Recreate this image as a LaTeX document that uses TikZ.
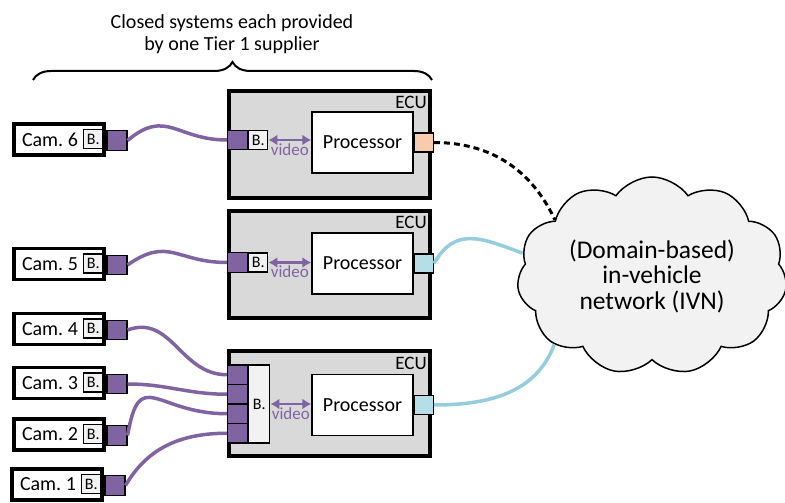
\documentclass[tikz,border=0pt]{standalone}
\usepackage{fontspec}
\setmainfont{Carlito}
\usetikzlibrary{positioning,arrows.meta,shapes.symbols,decorations.pathreplacing}
\definecolor{campurple}{RGB}{128,100,162}
\definecolor{ecugray}{RGB}{217,217,217}
\definecolor{boxgray}{RGB}{242,242,242}
\definecolor{portorange}{RGB}{248,203,173}
\definecolor{portcyan}{RGB}{182,222,232}
\definecolor{linkcyan}{RGB}{150,205,222}
\frenchspacing
\newcommand\camname[1]{\makebox[74pt][l]{Cam.\ #1}}

\tikzset{
  cambox/.style={draw,line width=3.5pt,fill=white,minimum width=90pt,minimum height=31pt,inner xsep=8pt,inner ysep=0pt,font=\fontsize{20}{22}\selectfont},
  bbox/.style={draw,line width=1.2pt,fill=boxgray,minimum width=19pt,minimum height=19pt,inner sep=0pt,font=\fontsize{16}{18}\selectfont},
  port/.style={draw,line width=1.2pt,fill=campurple,minimum width=20pt,minimum height=19.5pt,inner sep=0pt},
  outport/.style={draw,line width=1.2pt,minimum width=19pt,minimum height=19pt,inner sep=0pt},
  ecu/.style={draw,line width=4pt,fill=ecugray,minimum width=201pt,minimum height=107pt,inner sep=0pt},
  ecutag/.style={inner sep=0pt,font=\fontsize{19}{21}\selectfont},
  proc/.style={draw,line width=1.5pt,fill=white,minimum width=101pt,minimum height=61pt,inner sep=0pt,font=\fontsize{20}{22}\selectfont},
  vidarrow/.style={campurple,line width=2.5pt,{Latex[length=9pt,width=11pt]}-{Latex[length=9pt,width=11pt]}},
  vidtext/.style={midway,below=2pt,inner sep=0pt,text=campurple,font=\fontsize{17}{19}\selectfont},
  cable/.style={campurple,line width=3.5pt},
  link/.style={linkcyan,line width=3.5pt},
}

\begin{document}
\begin{tikzpicture}[x=1pt,y=1pt]
\useasboundingbox (0,0) rectangle (785,503);

% Tier 1 brace
\draw[line width=2pt,decorate,decoration={brace,amplitude=18pt}] (33,423) -- (432,423);
\node[align=center,font=\fontsize{20}{22}\selectfont] (tier) at (232,469) {Closed systems each provided\\by one Tier 1 supplier};

% Network
\node[cloud,draw,fill=boxgray,line width=1.5pt,cloud puffs=11,cloud puff arc=110,cloud ignores aspect,inner sep=0pt,minimum width=270pt,minimum height=198pt,align=center,font=\fontsize{25.5}{25.5}\selectfont] (ivn) at (652,227) {(Domain-based)\\in-vehicle\\network (IVN)};

% ECU 1
\node[ecu] (ecu1) at (329.5,358.5) {};
\node[ecutag,anchor=north east] (ecu1t) at ([xshift=-5pt,yshift=-7pt]ecu1.north east) {ECU};
\node[proc] (proc1) at (362.5,360.5) {Processor};
\node[outport,fill=portorange,anchor=west] (proc1p) at (proc1.east) {};
\node[port,anchor=west] (ecu1p) at ([yshift=4.5pt]ecu1.west) {};
\node[bbox,anchor=west] (ecu1b) at (ecu1p.east) {B.};
\draw[vidarrow] (ecu1b.east) -- (ecu1b.east -| proc1.west) node[vidtext] {video};

% ECU 2
\node[ecu] (ecu2) at (329.5,238.5) {};
\node[ecutag,anchor=north east] (ecu2t) at ([xshift=-5pt,yshift=-7pt]ecu2.north east) {ECU};
\node[proc] (proc2) at (362.5,239.5) {Processor};
\node[outport,fill=portcyan,anchor=west] (proc2p) at (proc2.east) {};
\node[port,anchor=west] (ecu2p) at ([yshift=2pt]ecu2.west) {};
\node[bbox,anchor=west] (ecu2b) at (ecu2p.east) {B.};
\draw[vidarrow] (ecu2b.east) -- (ecu2b.east -| proc2.west) node[vidtext] {video};

% ECU 3
\node[ecu,minimum height=105pt] (ecu3) at (329.5,99) {};
\node[ecutag,anchor=north east] (ecu3t) at ([xshift=-5pt,yshift=-7pt]ecu3.north east) {ECU};
\node[proc] (proc3) at (362.5,98) {Processor};
\node[outport,fill=portcyan,anchor=west] (proc3p) at (proc3.east) {};
\node[port,anchor=west] (ecu3pa) at ([yshift=29.25pt]ecu3.west) {};
\node[port,anchor=west] (ecu3pb) at ([yshift=9.75pt]ecu3.west) {};
\node[port,anchor=west] (ecu3pc) at ([yshift=-9.75pt]ecu3.west) {};
\node[port,anchor=west] (ecu3pd) at ([yshift=-29.25pt]ecu3.west) {};
\node[bbox,minimum width=21pt,minimum height=78pt,anchor=north west] (ecu3b) at (ecu3pa.north east) {B.};
\draw[vidarrow] (ecu3b.east) -- (ecu3b.east -| proc3.west) node[vidtext] {video};

% Cameras
\node[cambox] (cam6) at (59,363.5) {\camname{6}};
\node[cambox] (cam5) at (59,239) {\camname{5}};
\node[cambox] (cam4) at (59,174) {\camname{4}};
\node[cambox] (cam3) at (59,120) {\camname{3}};
\node[cambox] (cam2) at (59,68.5) {\camname{2}};
\node[cambox] (cam1) at (57,18.5) {\camname{1}};
\foreach \c in {1,...,6}{
  \node[bbox,anchor=east] (cam\c b) at ([xshift=-2.4pt,yshift=0.5pt]cam\c.east) {B.};
  \node[port,anchor=west] (cam\c p) at ([xshift=0.6pt,yshift=-1pt]cam\c.east) {};
}

% Video cables
\draw[cable] (cam6p.east) to[out=40,in=180,looseness=1.3] (ecu1p.west);
\draw[cable] (cam5p.east) to[out=35,in=180,looseness=1.3] (ecu2p.west);
\draw[cable] (cam4p.east) to[out=20,in=180,looseness=1.1] (ecu3pa.west);
\draw[cable] (cam3p.east) to[out=0,in=180] (ecu3pb.west);
\draw[cable] (cam2p.east) to[out=80,in=180,looseness=1.8] (ecu3pc.west);
\draw[cable] (cam1p.east) to[out=60,in=180] (ecu3pd.west);

% Links to the IVN
\draw[line width=3pt,dash pattern=on 6pt off 4pt] (proc1p.east) to[out=0,in=115] (ivn.150);
\draw[link] (proc2p.east) to[out=60,in=160,looseness=1.25] (ivn.170);
\draw[link] (proc3p.east) to[out=0,in=250] (ivn.215);
\end{tikzpicture}
\end{document}
